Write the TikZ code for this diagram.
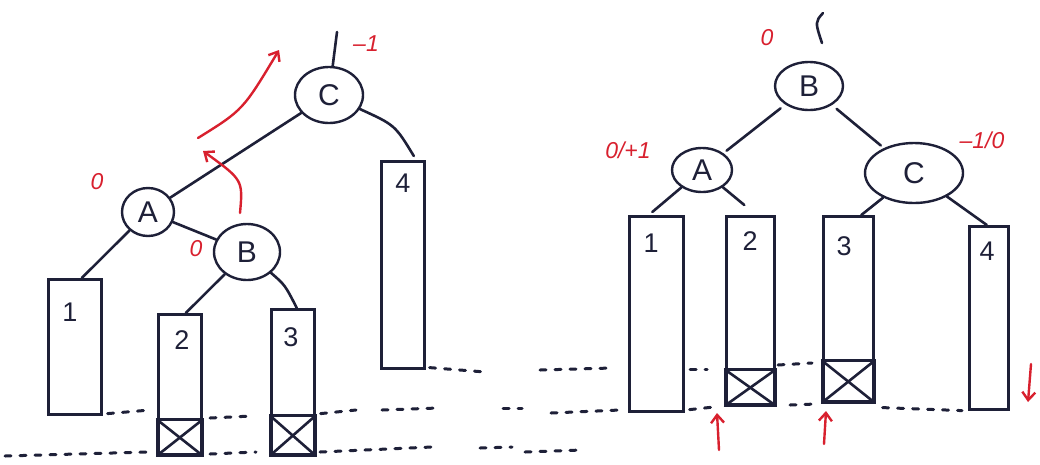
\documentclass[tikz,border=0pt]{standalone}
\usepackage{fontspec}
\setmainfont{Liberation Sans}
\usetikzlibrary{shapes.geometric,arrows.meta,calc}
\definecolor{ink}{HTML}{1E2038}
\definecolor{pen}{HTML}{D8202E}
\begin{document}
\begin{tikzpicture}[x=1pt,y=-1pt,
  inkline/.style={draw=ink, line width=2.6pt, line cap=round},
  knot/.style={ellipse, draw=ink, line width=2.4pt, inner sep=0pt, font=\fontsize{30}{30}\selectfont, text=ink},
  bar/.style={draw=ink, line width=2.6pt, inner sep=0pt, anchor=north west},
  num/.style={font=\fontsize{27}{27}\selectfont, text=ink, inner sep=0pt},
  bal/.style={text=pen, font=\itshape\fontsize{23}{23}\selectfont, inner sep=0pt},
  redarrow/.style={draw=pen, line width=2.4pt, line cap=round, -{Straight Barb[length=8pt,width=13pt,line width=2.4pt]}},
  level/.style={draw=ink, line width=3pt, line cap=round, dash pattern=on 6pt off 9pt}
]
\useasboundingbox (0,0) rectangle (1040,464);

% ---------------- left tree ----------------
\node[knot, minimum width=68pt, minimum height=56pt] (C) at (329,95) {C};
\node[knot, minimum width=52pt, minimum height=48pt] (A) at (148,212) {A};
\node[knot, minimum width=66pt, minimum height=56pt] (B) at (247,252) {B};

\node[bar, minimum width=53pt, minimum height=135pt] (b1) at (47,278) {};
\node[bar, minimum width=43pt, minimum height=140pt] (b2) at (157,313) {};
\node[bar, minimum width=43pt, minimum height=145pt] (b3) at (270,308) {};
\node[bar, minimum width=43pt, minimum height=207pt] (b4) at (380,160) {};
\node[num] (n1) at (70,312) {1};
\node[num] (n2) at (182,340) {2};
\node[num] (n3) at (291,337) {3};
\node[num] (n4) at (403,183) {4};

\draw[inkline] (b2.south west) rectangle ($(b2.south east)+(0,-36)$);
\draw[inkline] (b2.south west) -- ($(b2.south east)+(0,-36)$);
\draw[inkline] ($(b2.south west)+(0,-36)$) -- (b2.south east);
\draw[inkline] (b3.south west) rectangle ($(b3.south east)+(0,-40)$);
\draw[inkline] (b3.south west) -- ($(b3.south east)+(0,-40)$);
\draw[inkline] ($(b3.south west)+(0,-40)$) -- (b3.south east);

\coordinate (topL) at (337,32);
\draw[inkline] (C) -- (topL);
\draw[inkline] (C) -- (A);
\draw[inkline] (A) -- (B);
\draw[inkline] (A) -- ($(b1.north)+(7,0)$);
\draw[inkline] (B) -- ($(b2.north)+(6,0)$);
\draw[inkline] (B) .. controls (285,285) .. ($(b3.north)+(4,0)$);
\draw[inkline] (C) .. controls (395,125) .. ($(b4.north)+(11,-4)$);

\node[bal] (lc) at (366,44) {–1};
\node[bal] (la) at (97,182) {0};
\node[bal] (lb) at (196,249) {0};

\coordinate (r1s) at (240,213);
\coordinate (r1e) at (203,151);
\coordinate (r2s) at (198,138);
\coordinate (r2e) at (279,50);
\draw[redarrow] (r1s) .. controls (243,180) .. (r1e);
\draw[redarrow] (r2s) .. controls (243,110) .. (r2e);

% ---------------- right tree ----------------
\node[knot, minimum width=68pt, minimum height=48pt] (RB) at (809,86) {B};
\node[knot, minimum width=60pt, minimum height=44pt] (RA) at (702,170) {A};
\node[knot, minimum width=98pt, minimum height=60pt] (RC) at (914,173) {C};

\node[bar, minimum width=54pt, minimum height=195pt] (r1) at (628,215) {};
\node[bar, minimum width=48pt, minimum height=188pt] (r2) at (725,215) {};
\node[bar, minimum width=50pt, minimum height=185pt] (r3) at (822,215) {};
\node[bar, minimum width=39pt, minimum height=183pt] (r4) at (968,225) {};
\node[num] (m1) at (651,243) {1};
\node[num] (m2) at (750,241) {2};
\node[num] (m3) at (844,246) {3};
\node[num] (m4) at (987,251) {4};

\draw[inkline] (r2.south west) rectangle ($(r2.south east)+(0,-36)$);
\draw[inkline] (r2.south west) -- ($(r2.south east)+(0,-36)$);
\draw[inkline] ($(r2.south west)+(0,-36)$) -- (r2.south east);
\draw[inkline] (r3.south west) rectangle ($(r3.south east)+(0,-42)$);
\draw[inkline] (r3.south west) -- ($(r3.south east)+(0,-42)$);
\draw[inkline] ($(r3.south west)+(0,-42)$) -- (r3.south east);

\coordinate (topRa) at (823,13);
\coordinate (topRb) at (822,43);
\draw[inkline] (topRa) .. controls (815,22) .. (topRb);
\draw[inkline, shorten <=6pt, shorten >=4pt] (RB) -- (RA);
\draw[inkline, shorten <=6pt, shorten >=4pt] (RB) -- (RC);
\draw[inkline] (RA) -- ($(r1.north)+(-4,-3)$);
\draw[inkline] (RA) -- ($(r2.north)+(-6,-10)$);
\draw[inkline] (RC) -- ($(r3.north)+(13,0)$);
\draw[inkline] (RC) -- ($(r4.north)+(-2,0)$);

\node[bal] (lrb) at (767,38) {0};
\node[bal] (lra) at (628,150) {0/+1};
\node[bal] (lrc) at (982,140) {–1/0};

\coordinate (u1s) at (719,450);
\coordinate (u1e) at (717,413);
\coordinate (u2s) at (824,444);
\coordinate (u2e) at (826,411);
\coordinate (d1s) at (1031,364);
\coordinate (d1e) at (1028,402);
\draw[redarrow] (u1s) -- (u1e);
\draw[redarrow] (u2s) -- (u2e);
\draw[redarrow] (d1s) -- (d1e);

% ---------------- height levels ----------------
% upper level (~367)
\draw[level] ($(b4.south east)+(4,-2)$) -- (485,372);
\draw[level] (540,370) -- (612,368);
\draw[level] (690,369) -- (707,369);
\draw[level] (778,365) -- (812,363);
% middle level (~410)
\draw[level] ($(b1.south east)+(5,-2)$) -- (150,410);
\draw[level] (210,418) -- (252,416);
\draw[level] ($(b3.south east)+(5,-42)$) -- (356,410);
\draw[level] (382,410) -- (438,408);
\draw[level] (503,408) -- (522,408);
\draw[level] (551,413) -- (620,410);
\draw[level] ($(r1.south east)+(5,-3)$) -- (714,407);
\draw[level] (790,405) -- (816,404);
\draw[level] ($(r3.south east)+(8,5)$) -- ($(r4.south west)+(-6,0)$);
% lower level (~453)
\draw[level] (5,456) -- (148,452);
\draw[level] (210,454) -- (256,452);
\draw[level] (320,452) -- (432,447);
\draw[level] (480,448) -- (512,447);
\draw[level] (525,452) -- (582,450);
\end{tikzpicture}
\end{document}
